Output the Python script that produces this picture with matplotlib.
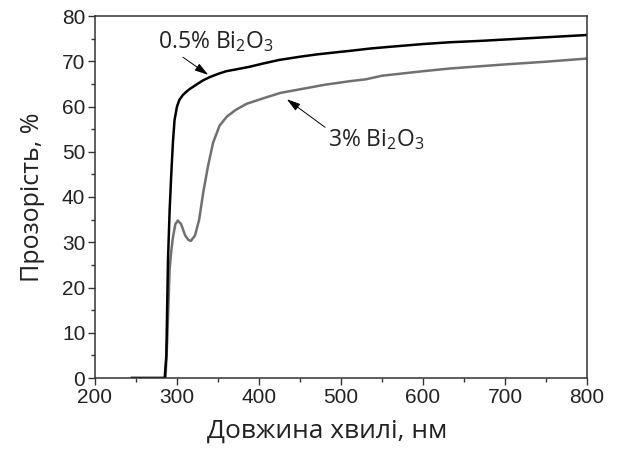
import matplotlib
matplotlib.use("Agg")
import matplotlib.pyplot as plt
from matplotlib.ticker import MultipleLocator

# Data
wl_low = [245, 285, 287, 289, 291, 293, 295, 297, 300, 303, 307, 311, 315, 320, 325, 332, 340, 350,
          360, 375, 389, 405, 425, 450, 470, 490, 511, 535, 560, 600, 633, 670, 700, 750, 800]
tr_low = [0, 0, 5, 26, 37, 45, 52, 57, 60, 61.5, 62.5, 63.2, 63.8, 64.4, 65.0, 65.8, 66.5, 67.2,
          67.8, 68.3, 68.8, 69.5, 70.3, 71.0, 71.5, 71.9, 72.3, 72.8, 73.2, 73.8, 74.2, 74.5, 74.8, 75.3, 75.8]

wl_high = [245, 286, 288, 291, 293, 295, 298, 301, 305, 310, 314, 317, 322, 327, 332, 338, 344, 352,
           361, 372, 385, 405, 426, 450, 480, 511, 530, 550, 600, 633, 700, 750, 800]
tr_high = [0, 0, 8, 24, 28, 31, 34, 34.8, 34, 31.5, 30.5, 30.3, 31.5, 35, 41, 47, 52, 55.8,
           57.8, 59.3, 60.6, 61.8, 63.0, 63.8, 64.8, 65.6, 66.0, 66.8, 67.8, 68.4, 69.3, 69.9, 70.6]

label_low = "0.5% Bi$\\mathregular{_2}$O$\\mathregular{_3}$"
label_high = "3% Bi$\\mathregular{_2}$O$\\mathregular{_3}$"
xlabel = "Довжина хвилі, нм"
ylabel = "Прозорість, %"

plt.rcParams['mathtext.fontset'] = 'custom'
plt.rcParams['mathtext.rm'] = 'Open Sans'

fig = plt.figure(figsize=(6.19, 4.54), dpi=100)
ax = fig.add_axes([95/619, 1-378/454, (587-95)/619, (378-16)/454])

ax.plot(wl_high, tr_high, color='#707070', lw=1.8)
ax.plot(wl_low, tr_low, color='black', lw=1.8)

ax.set_xlim(200, 800)
ax.set_ylim(0, 80)
ax.xaxis.set_major_locator(MultipleLocator(100))
ax.xaxis.set_minor_locator(MultipleLocator(50))
ax.yaxis.set_major_locator(MultipleLocator(10))
ax.yaxis.set_minor_locator(MultipleLocator(5))
ax.tick_params(which='both', direction='out', top=False, right=False, width=1, color='#333333')
ax.tick_params(which='major', length=5, labelsize=15, pad=2, labelcolor='#222222')
ax.tick_params(which='minor', length=3)
for lab in ax.get_xticklabels() + ax.get_yticklabels():
    lab.set_fontfamily('Liberation Sans')
for s in ax.spines.values():
    s.set_linewidth(1.1)
    s.set_color('#333333')

ax.set_xlabel(xlabel, fontsize=19, fontfamily='Open Sans', labelpad=9, color='#222222')
ax.xaxis.label.set_x(0.472)
ax.set_ylabel(ylabel, fontsize=18, fontfamily='Open Sans', labelpad=12, color='#222222')

ax.annotate(label_low, xy=(338, 67.0), xytext=(277, 71.5), fontsize=16.5, fontfamily='Open Sans',
            ha='left', va='bottom', color='#222222',
            arrowprops=dict(arrowstyle='-|>,head_length=0.5,head_width=0.15', color='black', lw=0.7,
                            shrinkA=0, shrinkB=0, relpos=(0.18, 0)))
ax.annotate(label_high, xy=(434, 61.6), xytext=(484, 50.0), fontsize=16.5, fontfamily='Open Sans',
            ha='left', va='bottom', color='#222222',
            arrowprops=dict(arrowstyle='-|>,head_length=0.5,head_width=0.15', color='black', lw=0.7,
                            shrinkA=0, shrinkB=0, relpos=(0.0, 0.9)))

fig.savefig('out.png', dpi=100)
